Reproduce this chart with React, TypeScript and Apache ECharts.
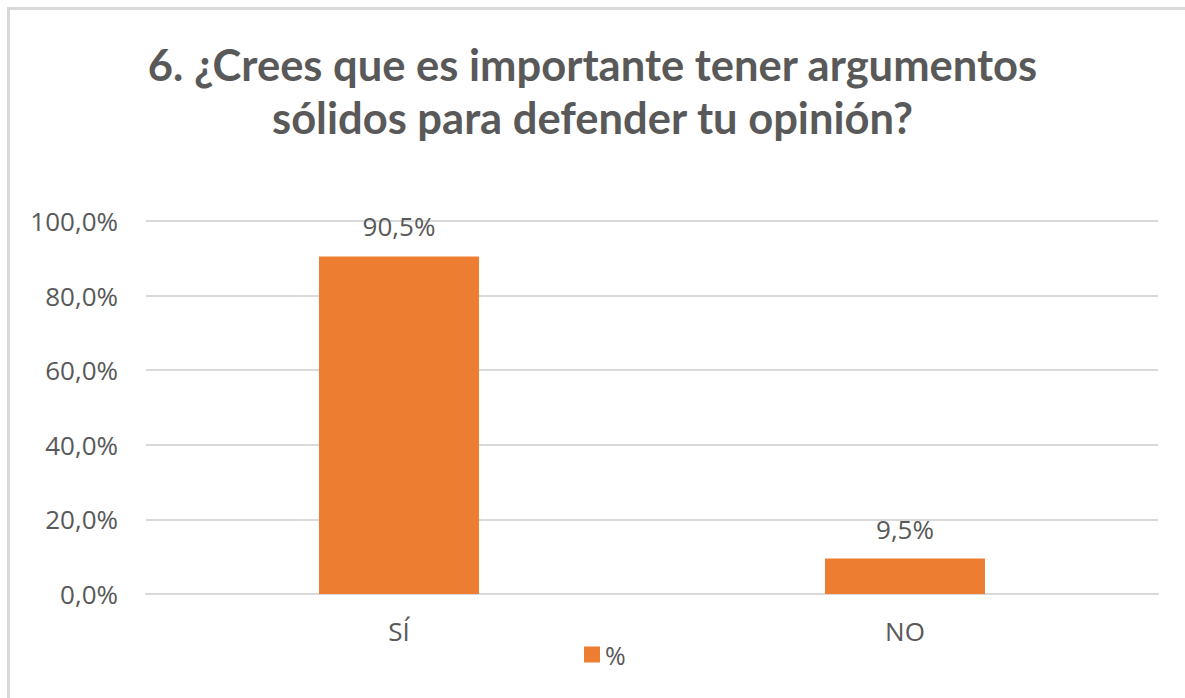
import React, { useEffect, useRef } from "react";
import * as echarts from "echarts";

const categories = ["SÍ", "NO"];
const values = [90.5, 9.5];
const seriesName = "%";
const titleText = "6. ¿Crees que es importante tener argumentos\nsólidos para defender tu opinión?";

const fmt = (v: number) => v.toFixed(1).replace(".", ",") + "%";

export default function App() {
  const ref = useRef<HTMLDivElement>(null);
  useEffect(() => {
    const chart = echarts.init(ref.current!, null, { renderer: "svg" });
    chart.setOption({
      animation: false,
      backgroundColor: "#ffffff",
      title: {
        text: titleText,
        left: "center",
        top: 32,
        textStyle: {
          fontFamily: "Lato",
          fontWeight: "bold",
          fontSize: 43.5,
          color: "#595959",
          lineHeight: 53,
        },
      },
      graphic: [
        { type: "line", shape: { x1: 7, y1: 8.5, x2: 1185, y2: 8.5 }, style: { stroke: "#d9d9d9", lineWidth: 3 } },
        { type: "line", shape: { x1: 8.5, y1: 7, x2: 8.5, y2: 698 }, style: { stroke: "#d9d9d9", lineWidth: 3 } },
      ],
      legend: {
        data: [seriesName],
        bottom: 26,
        left: 579,
        itemWidth: 16,
        itemHeight: 16,
        itemGap: 8,
        icon: "rect",
        textStyle: { fontFamily: "Open Sans", fontSize: 25, color: "#595959" },
      },
      grid: { left: 146, right: 27, top: 221, bottom: 104, containLabel: false },
      xAxis: {
        type: "category",
        data: categories,
        axisLine: { show: true, lineStyle: { color: "#d9d9d9", width: 2 } },
        axisTick: { show: false },
        axisLabel: { margin: 24, fontFamily: "Open Sans", fontSize: 26, color: "#595959" },
      },
      yAxis: {
        type: "value",
        min: 0,
        max: 100,
        interval: 20,
        axisLine: { show: false },
        axisTick: { show: false },
        splitLine: { lineStyle: { color: "#d9d9d9", width: 2 } },
        axisLabel: {
          margin: 28,
          fontFamily: "Open Sans",
          fontSize: 26,
          color: "#595959",
          formatter: (v: number) => fmt(v),
        },
      },
      series: [
        {
          name: seriesName,
          type: "bar",
          data: values,
          barWidth: 160,
          itemStyle: { color: "#ED7D31" },
          label: {
            show: true,
            position: "top",
            distance: 17,
            fontFamily: "Open Sans",
            fontSize: 26,
            color: "#595959",
            formatter: (p: any) => fmt(p.value),
          },
        },
      ],
    });
    return () => chart.dispose();
  }, []);
  return (
    <div
      ref={ref}
      style={{ position: "absolute", left: 0, top: 0, width: 1185, height: 698 }}
    />
  );
}
